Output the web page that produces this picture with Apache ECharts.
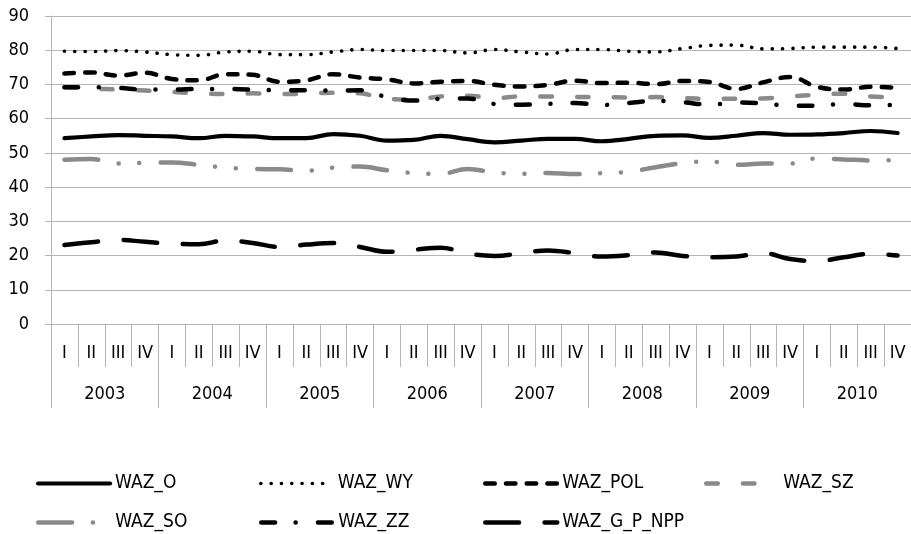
<!DOCTYPE html>
<html>
<head>
<meta charset="utf-8">
<script src="https://cdn.jsdelivr.net/npm/echarts@6/dist/echarts.min.js"></script>
<style>
html,body{margin:0;padding:0;background:#fff;}
#chart{width:911px;height:534px;}
</style>
</head>
<body>
<div id="chart"></div>
<script>
// ---- data ----
const years = ['2003','2004','2005','2006','2007','2008','2009','2010'];
const quarterNames = ['I','II','III','IV'];
const quarters = [];
years.forEach(function(){ quarterNames.forEach(function(q){ quarters.push(q); }); });
const yMin = 0, yMax = 90, yStep = 10;

const WAZ_O = [54.3,54.8,55.2,55.0, 54.8,54.3,55.0,54.8, 54.3,54.3,55.5,55.0, 53.6,53.8,55.0,54.0,
               53.1,53.6,54.1,54.1, 53.4,54.1,55.0,55.1, 54.4,55.0,55.8,55.3, 55.4,55.8,56.4,55.8];
const WAZ_WY = [79.7,79.6,79.9,79.5, 78.7,78.5,79.5,79.7, 78.7,78.7,79.5,80.2, 79.9,79.9,79.9,79.2,
                80.2,79.5,78.9,80.2, 80.2,79.7,79.5,80.5, 81.4,81.5,80.4,80.5, 80.9,80.9,80.9,80.5];
const WAZ_POL = [73.2,73.5,72.6,73.4, 71.6,71.2,73.0,72.8, 70.8,71.2,73.0,72.0, 71.5,70.3,70.8,71.0,
                 69.9,69.4,69.9,71.1, 70.4,70.5,70.1,71.0, 70.7,68.7,70.6,72.2, 69.3,68.5,69.3,69.0];
const WAZ_SZ = [69.2,68.8,68.5,68.2, 67.8,67.4,67.2,67.4, 67.2,67.3,67.6,67.4, 65.8,65.6,66.5,66.7,
                66.0,66.5,66.5,66.3, 66.3,66.2,66.3,66.0, 65.8,65.8,65.9,66.5, 67.0,67.3,66.5,66.3];
const WAZ_SO = [48.0,48.2,46.9,47.1, 47.2,46.5,45.7,45.3, 45.2,44.8,45.7,46.0, 44.9,44.1,43.9,45.3,
                44.3,43.9,44.1,43.8, 44.1,44.5,45.8,47.0, 47.5,46.5,46.9,46.9, 48.4,48.1,47.8,47.9];
const WAZ_ZZ = [69.2,69.2,69.0,68.5, 68.5,68.7,68.7,68.5, 68.3,68.3,68.2,68.3, 66.3,65.3,65.8,65.9,
                64.3,64.1,64.3,64.6, 64.0,64.6,65.2,64.8, 64.1,64.7,64.5,63.8, 63.8,64.3,63.9,64.0];
const WAZ_G_P_NPP = [23.1,23.9,24.6,24.0, 23.5,23.3,24.4,23.7, 22.5,23.2,23.7,22.5, 21.1,21.7,22.3,20.6,
                     19.9,20.7,21.5,20.7, 19.7,20.1,20.9,19.9, 19.5,19.7,20.7,19.0, 18.4,19.5,20.5,20.0];

const seriesNames = ['WAZ_O','WAZ_WY','WAZ_POL','WAZ_SZ','WAZ_SO','WAZ_ZZ','WAZ_G_P_NPP'];
const seriesValues = [WAZ_O, WAZ_WY, WAZ_POL, WAZ_SZ, WAZ_SO, WAZ_ZZ, WAZ_G_P_NPP];

// ---- styles ----
const BLACK = '#000000', GRAY = '#8a8a8a', GRID = '#b5b5b5';
const FONT = "'Liberation Sans Narrow','Arial Narrow','DejaVu Sans Condensed',sans-serif";
const styles = [
  {color: BLACK, width: 4.2, type: 'solid', cap: 'round'},
  {color: BLACK, width: 3.6, type: [0.1, 10.2], cap: 'round'},
  {color: BLACK, width: 4.5, type: [9.5, 11.2], cap: 'round'},
  {color: GRAY,  width: 4.5, type: [11.5, 25.2], cap: 'round'},
  {color: GRAY,  width: 4.5, type: [33.8, 20.8, 0.1, 20.6, 0.1, 21.3], cap: 'round'},
  {color: BLACK, width: 4.5, type: [13.8, 20.5, 0.1, 22.3], cap: 'round'},
  {color: BLACK, width: 4.5, type: [33.8, 25.5], cap: 'round'}
];
const legendPos = [[36,474],[259,474],[483,474],[704,474],[36,513],[259,513],[483,513]];

const series = seriesNames.map(function(n, i){
  return {
    name: n, type: 'line', data: seriesValues[i],
    xAxisIndex: 0, yAxisIndex: 0,
    symbol: 'none', showSymbol: false, smooth: 0.4,
    lineStyle: {color: styles[i].color, width: styles[i].width, type: styles[i].type, cap: styles[i].cap, join: 'round'},
    itemStyle: {color: styles[i].color},
    emphasis: {disabled: true},
    z: 2 + i
  };
});

const legends = seriesNames.map(function(n, i){
  return {
    data: [n], left: legendPos[i][0], top: legendPos[i][1], padding: 0,
    itemWidth: 72, itemHeight: 16,
    itemStyle: {opacity: 0, borderWidth: 0},
    lineStyle: {color: styles[i].color, width: styles[i].width, type: styles[i].type, cap: 'round', opacity: 1},
    textStyle: {fontFamily: FONT, fontSize: 19, color: '#000'},
    selectedMode: false
  };
});

const option = {
  animation: false,
  backgroundColor: '#ffffff',
  grid: {left: 51, top: 16, width: 864, height: 308, containLabel: false},
  legend: legends,
  xAxis: [
    {
      type: 'category', data: quarters, position: 'bottom', boundaryGap: true,
      axisLine: {show: true, lineStyle: {color: GRID, width: 1}},
      axisTick: {show: true, interval: 0, length: 43, lineStyle: {color: GRID, width: 1}},
      axisLabel: {interval: 0, margin: 20, color: '#000', fontFamily: FONT, fontSize: 18},
      splitLine: {show: false}
    },
    {
      type: 'category', data: years, position: 'bottom', boundaryGap: true,
      axisLine: {show: false},
      axisTick: {show: true, interval: 0, length: 84, lineStyle: {color: GRID, width: 1}},
      axisLabel: {interval: 0, margin: 61, color: '#000', fontFamily: FONT, fontSize: 18},
      splitLine: {show: false}
    }
  ],
  yAxis: {
    type: 'value', min: yMin, max: yMax, interval: yStep,
    axisLine: {show: true, lineStyle: {color: GRID, width: 1}},
    axisTick: {show: true, length: 6, lineStyle: {color: GRID, width: 1}},
    axisLabel: {margin: 22, color: '#000', fontFamily: FONT, fontSize: 18},
    splitLine: {show: true, lineStyle: {color: GRID, width: 1}}
  },
  series: series
};

const chart = echarts.init(document.getElementById('chart'), null, {renderer: 'canvas'});
chart.setOption(option);
</script>
</body>
</html>
